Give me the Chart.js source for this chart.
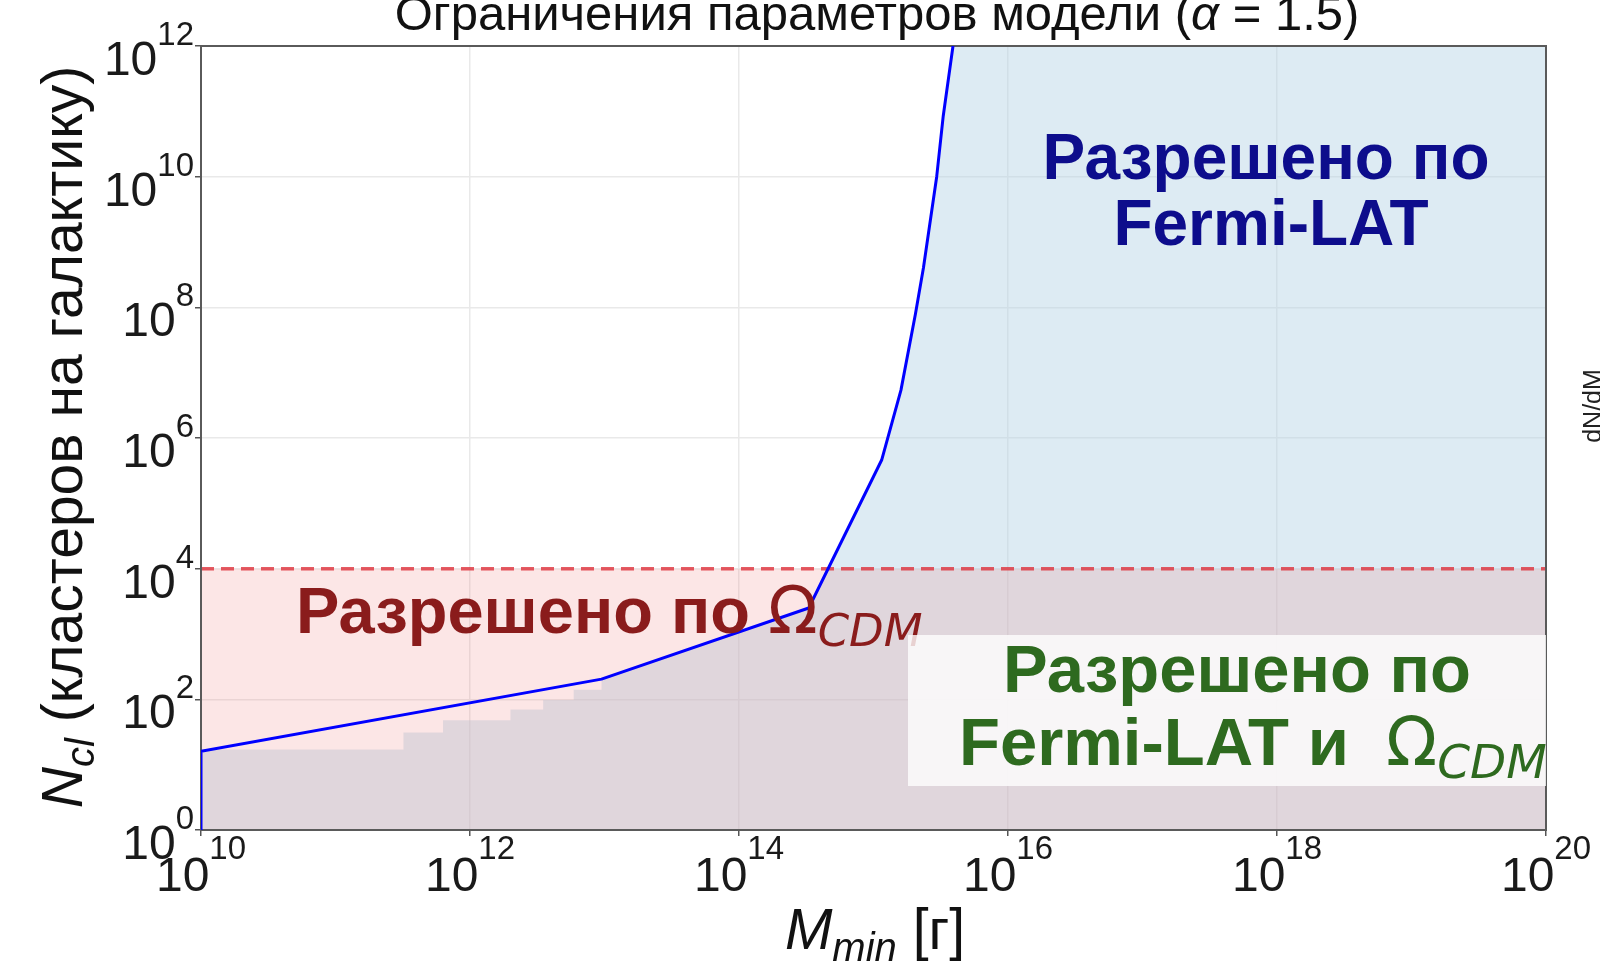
<!DOCTYPE html>
<html><head><meta charset="utf-8">
<script src="https://cdn.jsdelivr.net/npm/chart.js@4/dist/chart.umd.min.js"></script>
<style>html,body{margin:0;padding:0;background:#fff;overflow:hidden}canvas{display:block}</style>
</head><body>
<canvas id="c" width="1600" height="962" style="width:1600px;height:962px"></canvas>
<script>
// ---- data ----
const xTickExponents = [10, 12, 14, 16, 18, 20];
const yTickExponents = [0, 2, 4, 6, 8, 10, 12];

// Fermi-LAT limit curve (M_min [g], N_cl)
const curveMass = [1e10, 1e10, 9.5e12, 3.3e14, 1.15e15, 1.6e15, 2.05e15, 2.35e15, 2.95e15, 3.3e15, 3.9e15];
const curveNcl  = [1, 16, 204, 2500, 4.6e5, 5.4e6, 7.9e7, 4.0e8, 1.0e10, 8.5e10, 1e12];

// upper boundary of the Fermi-LAT allowed (blue) region
const fermiMass = [1e10, 3.2e11, 3.2e11, 6.3e11, 6.3e11, 2.0e12, 2.0e12, 3.5e12, 3.5e12, 5.9e12, 5.9e12, 9.5e12, 9.5e12,
                   3.3e14, 1.15e15, 1.6e15, 2.05e15, 2.35e15, 2.95e15, 3.3e15, 3.9e15, 1e20];
const fermiNcl  = [17, 17, 31, 31, 48, 48, 70, 70, 98, 98, 140, 140, 204,
                   2500, 4.6e5, 5.4e6, 7.9e7, 4.0e8, 1.0e10, 8.5e10, 1e12, 1e12];

// Omega_CDM limit
const omegaMass = [1e10, 1e20];
const omegaNcl  = [1e4, 1e4];

const titleText = 'Ограничения параметров модели (';
const yTitleText = ' (кластеров на галактику)';

// ---- drawing ----
const SANS = '"Liberation Sans", Arial, sans-serif';
const DV = '"DejaVu Sans", sans-serif';

function pts(xs, ys){ return xs.map((x,i)=>({x:x, y:ys[i]})); }

function drawRuns(ctx, runs, x, y, align){
  let total = 0; const ws = [];
  for (const r of runs){ ctx.font = r.font; const w = ctx.measureText(r.text).width; ws.push(w); total += w; }
  let cx = align === 'center' ? x - total/2 : (align === 'right' ? x - total : x);
  ctx.textAlign = 'left'; ctx.textBaseline = 'alphabetic';
  runs.forEach((r,i)=>{ ctx.font = r.font; ctx.fillStyle = r.color; ctx.fillText(r.text, cx, y + (r.dy||0)); cx += ws[i]; });
}

const annot = {
  id: 'annot',
  beforeDatasetDraw(chart, args){
    if (args.index !== 0) return;
    const {ctx, chartArea:a} = chart;
    ctx.save();
    ctx.strokeStyle = '#5a5a5a'; ctx.lineWidth = 2;
    ctx.strokeRect(a.left, a.top, a.right - a.left, a.bottom - a.top);
    ctx.restore();
  },
  afterDraw(chart){
    const {ctx, chartArea:a} = chart;
    const xs = chart.scales.x, ys = chart.scales.y;
    ctx.save();
    const tc = '#1a1a1a';
    for (const e of yTickExponents){
      const py = ys.getPixelForValue(Math.pow(10, e));
      drawRuns(ctx, [{text:'10', font:`48px ${SANS}`, color:tc},
                     {text:String(e), font:`33px ${SANS}`, dy:-30, color:tc}], 194, py + 29, 'right');
    }
    for (const e of xTickExponents){
      const px = xs.getPixelForValue(Math.pow(10, e));
      drawRuns(ctx, [{text:'10', font:`48px ${SANS}`, color:tc},
                     {text:String(e), font:`33px ${SANS}`, dy:-32, color:tc}], px, 891, 'center');
    }
    // title
    drawRuns(ctx, [{text:titleText, font:`49px ${SANS}`, color:'#111'},
                   {text:'α', font:`italic 49px ${SANS}`, color:'#111'},
                   {text:' = 1.5)', font:`49px ${SANS}`, color:'#111'}], 877, 30, 'center');
    // x title
    drawRuns(ctx, [{text:'M', font:`italic 57px ${SANS}`, color:'#111'},
                   {text:'min', font:`italic 40px ${SANS}`, dy:12, color:'#111'},
                   {text:' [г]', font:`57px ${SANS}`, color:'#111'}], 875, 949, 'center');
    // y title
    ctx.save();
    ctx.translate(82, 437); ctx.rotate(-Math.PI/2);
    drawRuns(ctx, [{text:'N', font:`italic 57px ${SANS}`, color:'#111'},
                   {text:'cl', font:`italic 40px ${SANS}`, dy:12, color:'#111'},
                   {text:yTitleText, font:`57px ${SANS}`, color:'#111'}], 0, 0, 'center');
    ctx.restore();
    // right-panel label fragment
    ctx.save();
    ctx.translate(1601, 406); ctx.rotate(-Math.PI/2);
    drawRuns(ctx, [{text:'dN/dM', font:`25px ${SANS}`, color:'#222'}], 0, 0, 'center');
    ctx.restore();
    // blue annotation
    const blue = '#0d0d8c';
    drawRuns(ctx, [{text:'Разрешено по', font:`bold 64px ${SANS}`, color:blue}], 1266, 179, 'center');
    drawRuns(ctx, [{text:'Fermi-LAT', font:`bold 64px ${SANS}`, color:blue}], 1271, 245, 'center');
    // red annotation
    const red = '#8a1c1c';
    drawRuns(ctx, [{text:'Разрешено по ', font:`bold 65px ${SANS}`, color:red},
                   {text:'Ω', font:`65px ${DV}`, color:red},
                   {text:'CDM', font:`italic 45px ${DV}`, dy:13, color:red}], 296, 633, 'left');
    // green annotation with box
    ctx.fillStyle = 'rgba(255,255,255,0.8)';
    ctx.fillRect(908, 635, a.right - 908, 151);
    const green = '#2e6a1f';
    drawRuns(ctx, [{text:'Разрешено по', font:`bold 67px ${SANS}`, color:green}], 1237, 692, 'center');
    drawRuns(ctx, [{text:'Fermi-LAT и  ', font:`bold 67px ${SANS}`, color:green},
                   {text:'Ω', font:`67px ${DV}`, color:green},
                   {text:'CDM', font:`italic 47px ${DV}`, dy:13, color:green}], 959, 765, 'left');
    ctx.restore();
  }
};

const gridCfg = {color:'#e9e9e9', lineWidth:1.5, drawTicks:true, tickLength:6, tickColor:'#555', tickWidth:1.5};

new Chart(document.getElementById('c').getContext('2d'), {
  type: 'line',
  data: {
    datasets: [
      { label:'Fermi-LAT limit', data: pts(curveMass, curveNcl), borderColor:'#0000ff', borderWidth:3,
        pointRadius:0, fill:false, tension:0, order:0, borderJoinStyle:'round' },
      { label:'Omega_CDM', data: pts(omegaMass, omegaNcl), borderColor:'rgba(222,45,55,0.78)', borderWidth:3.5,
        borderDash:[13,7], pointRadius:0, fill:'start', backgroundColor:'rgba(240,128,128,0.2)', tension:0, order:1 },
      { label:'Fermi allowed', data: pts(fermiMass, fermiNcl), borderWidth:0, borderColor:'rgba(0,0,0,0)',
        pointRadius:0, fill:'start', backgroundColor:'rgba(180,210,228,0.45)', tension:0, order:2 }
    ]
  },
  options: {
    responsive:false, animation:false, devicePixelRatio:1,
    layout:{padding:{top:46, right:54, left:0, bottom:0}},
    plugins:{legend:{display:false}, tooltip:{enabled:false}, title:{display:false}},
    scales:{
      x:{type:'logarithmic', position:'bottom', min:1e10, max:1e20,
         afterBuildTicks:s=>{ s.ticks = xTickExponents.map(e=>({value:Math.pow(10,e)})); },
         afterFit:s=>{ s.height = 132; },
         ticks:{display:false}, grid:gridCfg, border:{display:false}},
      y:{type:'logarithmic', position:'left', min:1, max:1e12,
         afterBuildTicks:s=>{ s.ticks = yTickExponents.map(e=>({value:Math.pow(10,e)})); },
         afterFit:s=>{ s.width = 201; },
         ticks:{display:false}, grid:gridCfg, border:{display:false}}
    }
  },
  plugins:[annot]
});
</script>
</body></html>
